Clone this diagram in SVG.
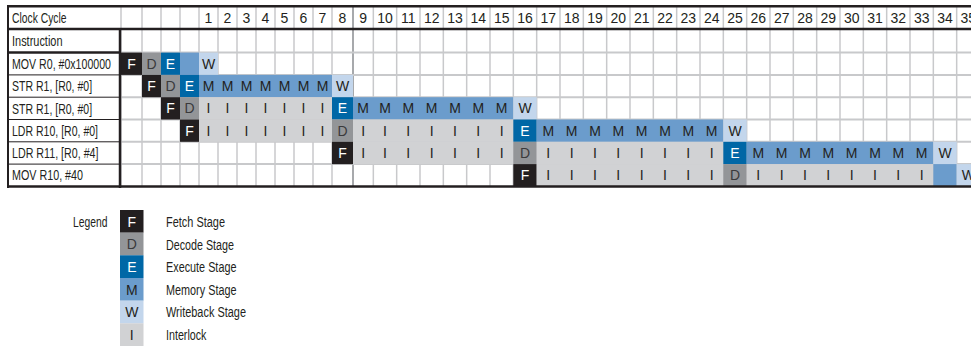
<svg xmlns="http://www.w3.org/2000/svg" width="971" height="347" viewBox="0 0 971 347">
<style>
text{font-family:"Liberation Sans",Arial,sans-serif;font-size:14px;fill:#231f20}
.lb{font-size:15px}
.c{text-anchor:middle}
.lt{fill:#ffffff}
.dt{fill:#3a3a3c}
.f{fill:#231f20}.d{fill:#939598}.e{fill:#0067a6}.m{fill:#6b9ccc}.w{fill:#c3d6ec}.i{fill:#d1d2d4}
.gv{stroke:#c8c9cb;stroke-width:1.5}
.gh{stroke:#c8c9cb;stroke-width:2}
.bk{stroke:#231f20;stroke-width:2.5}
.bt{stroke:#231f20;stroke-width:1}
</style>
<rect width="971" height="347" fill="#ffffff"/>
<g id="grid">
<g class="gv">
<line x1="121" y1="6" x2="121" y2="187"/><line x1="142" y1="6" x2="142" y2="187"/><line x1="161" y1="6" x2="161" y2="187"/><line x1="180" y1="6" x2="180" y2="187"/><line x1="199" y1="6" x2="199" y2="187"/><line x1="218" y1="6" x2="218" y2="187"/><line x1="237" y1="6" x2="237" y2="187"/><line x1="256" y1="6" x2="256" y2="187"/><line x1="275" y1="6" x2="275" y2="187"/><line x1="294" y1="6" x2="294" y2="187"/><line x1="313" y1="6" x2="313" y2="187"/><line x1="332" y1="6" x2="332" y2="187"/><line x1="353" y1="6" x2="353" y2="187" stroke="#a7a9ac" stroke-width="2"/><line x1="373.33" y1="6" x2="373.33" y2="187"/><line x1="396.67" y1="6" x2="396.67" y2="187"/><line x1="420" y1="6" x2="420" y2="187"/><line x1="443.33" y1="6" x2="443.33" y2="187"/><line x1="466.67" y1="6" x2="466.67" y2="187"/><line x1="490" y1="6" x2="490" y2="187"/><line x1="513.33" y1="6" x2="513.33" y2="187"/><line x1="536.67" y1="6" x2="536.67" y2="187"/><line x1="560" y1="6" x2="560" y2="187"/><line x1="583.33" y1="6" x2="583.33" y2="187"/><line x1="606.67" y1="6" x2="606.67" y2="187"/><line x1="630" y1="6" x2="630" y2="187"/><line x1="653.33" y1="6" x2="653.33" y2="187"/><line x1="676.67" y1="6" x2="676.67" y2="187"/><line x1="700" y1="6" x2="700" y2="187"/><line x1="723.33" y1="6" x2="723.33" y2="187"/><line x1="746.67" y1="6" x2="746.67" y2="187"/><line x1="770" y1="6" x2="770" y2="187"/><line x1="793.33" y1="6" x2="793.33" y2="187"/><line x1="816.67" y1="6" x2="816.67" y2="187"/><line x1="840" y1="6" x2="840" y2="187"/><line x1="863.33" y1="6" x2="863.33" y2="187"/><line x1="886.67" y1="6" x2="886.67" y2="187"/><line x1="910" y1="6" x2="910" y2="187"/><line x1="933.33" y1="6" x2="933.33" y2="187"/><line x1="956.67" y1="6" x2="956.67" y2="187"/>
</g>
<g class="gh">
<line x1="121" y1="52.6" x2="971" y2="52.6"/><line x1="121" y1="74.9" x2="971" y2="74.9"/><line x1="121" y1="97.2" x2="971" y2="97.2"/><line x1="121" y1="119.5" x2="971" y2="119.5"/><line x1="121" y1="141.8" x2="971" y2="141.8"/><line x1="121" y1="164.1" x2="971" y2="164.1"/>
</g>
</g>
<g id="header">
<text class="lb" transform="translate(12,22.8) scale(0.688,1)" textLength="79.2" lengthAdjust="spacingAndGlyphs">Clock Cycle</text>
<text class="lb" transform="translate(12,46) scale(0.73,1)" textLength="69.2" lengthAdjust="spacingAndGlyphs">Instruction</text>
<text x="208.5" y="22.5" class="c">1</text><text x="227.5" y="22.5" class="c">2</text><text x="246.5" y="22.5" class="c">3</text><text x="265.5" y="22.5" class="c">4</text><text x="284.5" y="22.5" class="c">5</text><text x="303.5" y="22.5" class="c">6</text><text x="322.5" y="22.5" class="c">7</text><text x="342.5" y="22.5" class="c">8</text><text x="363.2" y="22.5" class="c">9</text><text x="385" y="22.5" class="c">10</text><text x="408.3" y="22.5" class="c">11</text><text x="431.7" y="22.5" class="c">12</text><text x="455" y="22.5" class="c">13</text><text x="478.3" y="22.5" class="c">14</text><text x="501.7" y="22.5" class="c">15</text><text x="525" y="22.5" class="c">16</text><text x="548.3" y="22.5" class="c">17</text><text x="571.7" y="22.5" class="c">18</text><text x="595" y="22.5" class="c">19</text><text x="618.3" y="22.5" class="c">20</text><text x="641.7" y="22.5" class="c">21</text><text x="665" y="22.5" class="c">22</text><text x="688.3" y="22.5" class="c">23</text><text x="711.7" y="22.5" class="c">24</text><text x="735" y="22.5" class="c">25</text><text x="758.3" y="22.5" class="c">26</text><text x="781.7" y="22.5" class="c">27</text><text x="805" y="22.5" class="c">28</text><text x="828.3" y="22.5" class="c">29</text><text x="851.7" y="22.5" class="c">30</text><text x="875" y="22.5" class="c">31</text><text x="898.3" y="22.5" class="c">32</text><text x="921.7" y="22.5" class="c">33</text><text x="945" y="22.5" class="c">34</text><text x="968.3" y="22.5" class="c">35</text>
</g>
<g id="row-mov-r0">
<text class="lb" transform="translate(12,69) scale(0.722,1)" textLength="137.1" lengthAdjust="spacingAndGlyphs">MOV R0, #0x100000</text>
<rect class="f" x="121" y="52.6" width="21" height="22.3"/><rect class="d" x="142" y="52.6" width="19" height="22.3"/><rect class="e" x="161" y="52.6" width="19" height="22.3"/><rect class="m" x="180" y="52.6" width="19" height="22.3"/><rect class="w" x="199" y="52.6" width="19" height="22.3"/>
<text class="c lt" x="131.5" y="68.8">F</text><text class="c dt" x="151.5" y="68.8">D</text><text class="c lt" x="170.5" y="68.8">E</text><text class="c" x="208.5" y="68.8">W</text>
</g>
<g id="row-str-r1-a">
<text class="lb" transform="translate(12,91.2) scale(0.683,1)" textLength="117.2" lengthAdjust="spacingAndGlyphs">STR R1, [R0, #0]</text>
<rect class="f" x="142" y="74.9" width="19" height="22.3"/><rect class="d" x="161" y="74.9" width="19" height="22.3"/><rect class="e" x="180" y="74.9" width="19" height="22.3"/><rect class="m" x="199" y="74.9" width="133" height="22.3"/><rect class="w" x="332" y="74.9" width="21" height="22.3"/>
<text class="c lt" x="151.5" y="91">F</text><text class="c dt" x="170.5" y="91">D</text><text class="c lt" x="189.5" y="91">E</text>
<text class="c" x="208.5" y="91">M</text><text class="c" x="227.5" y="91">M</text><text class="c" x="246.5" y="91">M</text><text class="c" x="265.5" y="91">M</text><text class="c" x="284.5" y="91">M</text><text class="c" x="303.5" y="91">M</text><text class="c" x="322.5" y="91">M</text><text class="c" x="342.5" y="91">W</text>
</g>
<g id="row-str-r1-b">
<text class="lb" transform="translate(12,113.5) scale(0.683,1)" textLength="117.2" lengthAdjust="spacingAndGlyphs">STR R1, [R0, #0]</text>
<rect class="f" x="161" y="97.2" width="19" height="22.3"/><rect class="d" x="180" y="97.2" width="19" height="22.3"/><rect class="i" x="199" y="97.2" width="133" height="22.3"/><rect class="e" x="332" y="97.2" width="21" height="22.3"/><rect class="m" x="353" y="97.2" width="160.33" height="22.3"/><rect class="w" x="513.33" y="97.2" width="23.34" height="22.3"/>
<text class="c lt" x="170.5" y="113.3">F</text><text class="c dt" x="189.5" y="113.3">D</text>
<text class="c" x="208.5" y="113.3">I</text><text class="c" x="227.5" y="113.3">I</text><text class="c" x="246.5" y="113.3">I</text><text class="c" x="265.5" y="113.3">I</text><text class="c" x="284.5" y="113.3">I</text><text class="c" x="303.5" y="113.3">I</text><text class="c" x="322.5" y="113.3">I</text>
<text class="c lt" x="342.5" y="113.3">E</text>
<text class="c" x="363.2" y="113.3">M</text><text class="c" x="385" y="113.3">M</text><text class="c" x="408.3" y="113.3">M</text><text class="c" x="431.7" y="113.3">M</text><text class="c" x="455" y="113.3">M</text><text class="c" x="478.3" y="113.3">M</text><text class="c" x="501.7" y="113.3">M</text><text class="c" x="525" y="113.3">W</text>
</g>
<g id="row-ldr-r10">
<text class="lb" transform="translate(12,135.8) scale(0.685,1)" textLength="125.6" lengthAdjust="spacingAndGlyphs">LDR R10, [R0, #0]</text>
<rect class="f" x="180" y="119.5" width="19" height="22.3"/><rect class="i" x="199" y="119.5" width="133" height="22.3"/><rect class="d" x="332" y="119.5" width="21" height="22.3"/><rect class="i" x="353" y="119.5" width="160.33" height="22.3"/><rect class="e" x="513.33" y="119.5" width="23.34" height="22.3"/><rect class="m" x="536.67" y="119.5" width="186.66" height="22.3"/><rect class="w" x="723.33" y="119.5" width="23.34" height="22.3"/>
<text class="c lt" x="189.5" y="135.6">F</text>
<text class="c" x="208.5" y="135.6">I</text><text class="c" x="227.5" y="135.6">I</text><text class="c" x="246.5" y="135.6">I</text><text class="c" x="265.5" y="135.6">I</text><text class="c" x="284.5" y="135.6">I</text><text class="c" x="303.5" y="135.6">I</text><text class="c" x="322.5" y="135.6">I</text>
<text class="c dt" x="342.5" y="135.6">D</text>
<text class="c" x="363.2" y="135.6">I</text><text class="c" x="385" y="135.6">I</text><text class="c" x="408.3" y="135.6">I</text><text class="c" x="431.7" y="135.6">I</text><text class="c" x="455" y="135.6">I</text><text class="c" x="478.3" y="135.6">I</text><text class="c" x="501.7" y="135.6">I</text>
<text class="c lt" x="525" y="135.6">E</text>
<text class="c" x="548.3" y="135.6">M</text><text class="c" x="571.7" y="135.6">M</text><text class="c" x="595" y="135.6">M</text><text class="c" x="618.3" y="135.6">M</text><text class="c" x="641.7" y="135.6">M</text><text class="c" x="665" y="135.6">M</text><text class="c" x="688.3" y="135.6">M</text><text class="c" x="711.7" y="135.6">M</text><text class="c" x="735" y="135.6">W</text>
</g>
<g id="row-ldr-r11">
<text class="lb" transform="translate(12,158.1) scale(0.689,1)" textLength="125.6" lengthAdjust="spacingAndGlyphs">LDR R11, [R0, #4]</text>
<rect class="f" x="332" y="141.8" width="21" height="22.3"/><rect class="i" x="353" y="141.8" width="160.33" height="22.3"/><rect class="d" x="513.33" y="141.8" width="23.34" height="22.3"/><rect class="i" x="536.67" y="141.8" width="186.66" height="22.3"/><rect class="e" x="723.33" y="141.8" width="23.34" height="22.3"/><rect class="m" x="746.67" y="141.8" width="186.66" height="22.3"/><rect class="w" x="933.33" y="141.8" width="23.34" height="22.3"/>
<text class="c lt" x="342.5" y="157.9">F</text>
<text class="c" x="363.2" y="157.9">I</text><text class="c" x="385" y="157.9">I</text><text class="c" x="408.3" y="157.9">I</text><text class="c" x="431.7" y="157.9">I</text><text class="c" x="455" y="157.9">I</text><text class="c" x="478.3" y="157.9">I</text><text class="c" x="501.7" y="157.9">I</text>
<text class="c dt" x="525" y="157.9">D</text>
<text class="c" x="548.3" y="157.9">I</text><text class="c" x="571.7" y="157.9">I</text><text class="c" x="595" y="157.9">I</text><text class="c" x="618.3" y="157.9">I</text><text class="c" x="641.7" y="157.9">I</text><text class="c" x="665" y="157.9">I</text><text class="c" x="688.3" y="157.9">I</text><text class="c" x="711.7" y="157.9">I</text>
<text class="c lt" x="735" y="157.9">E</text>
<text class="c" x="758.3" y="157.9">M</text><text class="c" x="781.7" y="157.9">M</text><text class="c" x="805" y="157.9">M</text><text class="c" x="828.3" y="157.9">M</text><text class="c" x="851.7" y="157.9">M</text><text class="c" x="875" y="157.9">M</text><text class="c" x="898.3" y="157.9">M</text><text class="c" x="921.7" y="157.9">M</text><text class="c" x="945" y="157.9">W</text>
</g>
<g id="row-mov-r10">
<text class="lb" transform="translate(12,180.4) scale(0.716,1)" textLength="99.2" lengthAdjust="spacingAndGlyphs">MOV R10, #40</text>
<rect class="f" x="513.33" y="164.1" width="23.34" height="22.3"/><rect class="i" x="536.67" y="164.1" width="186.66" height="22.3"/><rect class="d" x="723.33" y="164.1" width="23.34" height="22.3"/><rect class="i" x="746.67" y="164.1" width="186.66" height="22.3"/><rect class="m" x="933.33" y="164.1" width="23.34" height="22.3"/><rect class="w" x="956.67" y="164.1" width="23.34" height="22.3"/>
<text class="c lt" x="525" y="180.2">F</text>
<text class="c" x="548.3" y="180.2">I</text><text class="c" x="571.7" y="180.2">I</text><text class="c" x="595" y="180.2">I</text><text class="c" x="618.3" y="180.2">I</text><text class="c" x="641.7" y="180.2">I</text><text class="c" x="665" y="180.2">I</text><text class="c" x="688.3" y="180.2">I</text><text class="c" x="711.7" y="180.2">I</text>
<text class="c dt" x="735" y="180.2">D</text>
<text class="c" x="758.3" y="180.2">I</text><text class="c" x="781.7" y="180.2">I</text><text class="c" x="805" y="180.2">I</text><text class="c" x="828.3" y="180.2">I</text><text class="c" x="851.7" y="180.2">I</text><text class="c" x="875" y="180.2">I</text><text class="c" x="898.3" y="180.2">I</text><text class="c" x="921.7" y="180.2">I</text>
<text class="c" x="968.3" y="180.2">W</text>
</g>
<g id="borders">
<line class="bk" x1="7" y1="6.2" x2="971" y2="6.2"/>
<line class="bk" x1="7" y1="29" x2="971" y2="29"/>
<line class="bk" x1="7" y1="186.6" x2="971" y2="186.6"/>
<line x1="8" y1="5" x2="8" y2="188" stroke="#231f20" stroke-width="2"/>
<line class="bk" x1="120" y1="29" x2="120" y2="188"/>
<line class="bk" x1="7" y1="52.6" x2="121" y2="52.6"/>
<line class="bt" x1="7" y1="74.9" x2="120" y2="74.9"/><line class="bt" x1="7" y1="97.2" x2="120" y2="97.2"/><line class="bt" x1="7" y1="119.5" x2="120" y2="119.5"/><line class="bt" x1="7" y1="141.8" x2="120" y2="141.8"/><line class="bt" x1="7" y1="164.1" x2="120" y2="164.1"/>
</g>
<g id="legend">
<text class="lb" transform="translate(73,227) scale(0.69,1)" textLength="50" lengthAdjust="spacingAndGlyphs">Legend</text>
<rect class="f" x="120" y="210" width="23.5" height="22.7"/><rect class="d" x="120" y="232.7" width="23.5" height="22.7"/><rect class="e" x="120" y="255.3" width="23.5" height="22.7"/><rect class="m" x="120" y="278" width="23.5" height="22.7"/><rect class="w" x="120" y="300.7" width="23.5" height="22.7"/><rect class="i" x="120" y="323.3" width="23.5" height="22.7"/>
<text class="c lt" x="131.8" y="226.5">F</text><text class="c dt" x="131.8" y="249.2">D</text><text class="c lt" x="131.8" y="271.8">E</text><text class="c" x="131.8" y="294.5">M</text><text class="c" x="131.8" y="317.2">W</text><text class="c" x="131.8" y="339.8">I</text>
<text class="lb" transform="translate(166,227) scale(0.729,1)" textLength="80.9" lengthAdjust="spacingAndGlyphs">Fetch Stage</text>
<text class="lb" transform="translate(166,249.5) scale(0.715,1)" textLength="95.1" lengthAdjust="spacingAndGlyphs">Decode Stage</text>
<text class="lb" transform="translate(166,272) scale(0.722,1)" textLength="97.6" lengthAdjust="spacingAndGlyphs">Execute Stage</text>
<text class="lb" transform="translate(166,294.8) scale(0.723,1)" textLength="97.5" lengthAdjust="spacingAndGlyphs">Memory Stage</text>
<text class="lb" transform="translate(166,317.3) scale(0.727,1)" textLength="110" lengthAdjust="spacingAndGlyphs">Writeback Stage</text>
<text class="lb" transform="translate(166,340) scale(0.714,1)" textLength="56.7" lengthAdjust="spacingAndGlyphs">Interlock</text>
</g>
</svg>
